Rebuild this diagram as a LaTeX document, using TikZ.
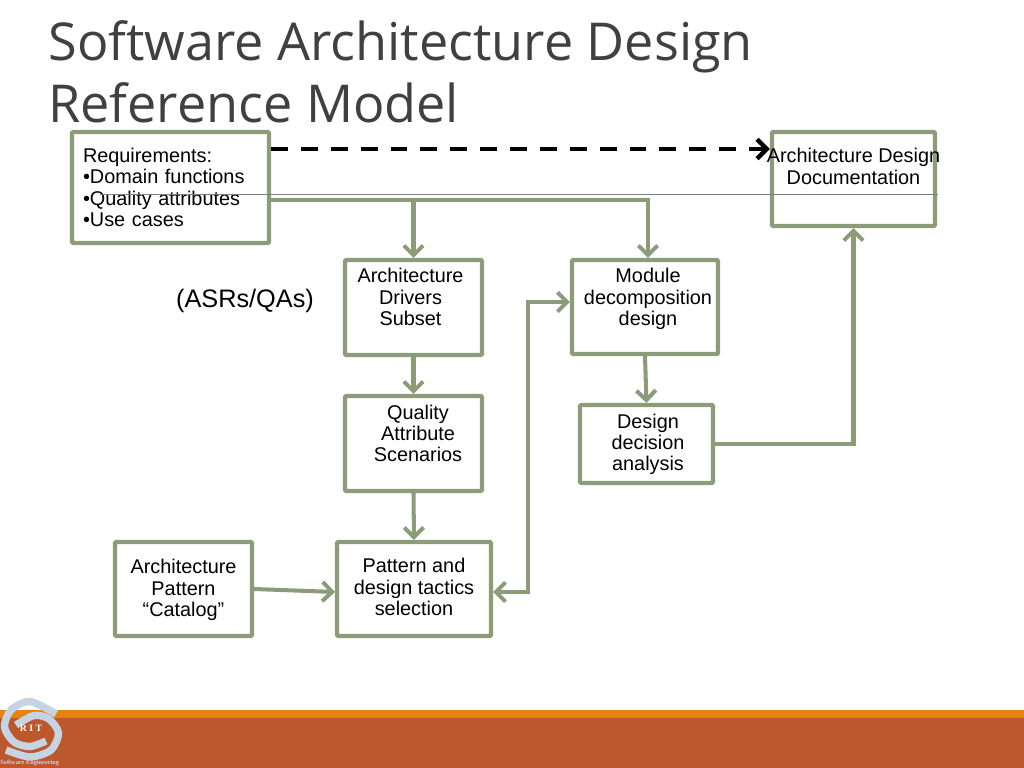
\documentclass[tikz,border=0pt]{standalone}
\usepackage{fontspec}
\setmainfont{Liberation Sans}
\newfontfamily\titlefont{Open Sans}
\newfontfamily\logofont{Liberation Serif}
\usetikzlibrary{arrows.meta}
\definecolor{boxgreen}{HTML}{8C9C78}
\definecolor{titlegray}{HTML}{404040}
\definecolor{bandorange}{HTML}{E48312}
\definecolor{bandrust}{HTML}{BD582C}
\definecolor{logoblue}{HTML}{C5D3E3}
\newcommand{\offtext}[2]{\hspace*{#1}\begin{tabular}[b]{@{}c@{}}#2\end{tabular}}
\begin{document}
\begin{tikzpicture}[box node/.style={draw=boxgreen, line width=2.3pt, fill=white, rounded corners=0.5pt, font=\fontsize{11.3}{12.2}\selectfont, align=center, inner sep=0pt},flow/.style={draw=boxgreen, line width=2.3pt, -{Straight Barb[length=5.5pt,width=11pt]}},trace/.style={draw=black, line width=2.6pt, dash pattern=on 9.6pt off 7.4pt, -{Straight Barb[length=5.5pt,width=11pt]}},logo stroke/.style={draw=logoblue, line width=4.2pt}]%
\path[use as bounding box] (0,0) rectangle (20.48,-15.36);%
  % Title%
\node[anchor=north west, inner sep=0pt, align=left, font=\titlefont\fontsize{29.7}{35.2}\selectfont, text=titlegray] (title) at (0.96,-0.4) {Software Architecture Design\\Reference Model};%
  % Footer%
\fill[bandorange] (0,-14.2) rectangle (20.48,-14.36);%
\fill[bandrust] (0,-14.36) rectangle (20.48,-15.36);%
\draw[logo stroke] plot[smooth] coordinates {(1.12,-14.28) (0.60,-14.03) (0.22,-14.20) (0.09,-14.54) (0.28,-14.84) (0.60,-14.93) (0.92,-14.82)};%
\draw[logo stroke] plot[smooth] coordinates {(0.12,-15.00) (0.60,-15.14) (1.02,-15.00) (1.17,-14.66) (0.98,-14.38) (0.68,-14.31) (0.32,-14.50)};%
\node[text=white, font=\logofont\bfseries\fontsize{5.5}{6}\selectfont, inner sep=0pt] (rit) at (0.62,-14.56) {R I T};%
\node[text=logoblue, font=\logofont\bfseries\fontsize{3.6}{4}\selectfont, anchor=west, inner sep=0pt] (dept) at (0,-15.26) {Software Engineering};%
  % Boxes%
\node[box node, minimum width=3.94cm, minimum height=2.22cm, text width=3.5cm, align=left] (req) at (3.41,-3.75) {Requirements:\\\textbullet Domain functions\\\textbullet Quality attributes\\\textbullet Use cases};%
\node[box node, minimum width=3.26cm, minimum height=1.88cm, text depth=0.5cm] (doc) at (17.07,-3.58) {\makebox[0pt]{Architecture Design}\\Documentation};%
\node[box node, minimum width=2.74cm, minimum height=1.90cm, text depth=0.44cm] (drivers) at (8.27,-6.15) {\offtext{-0.12cm}{Architecture\\Drivers\\Subset}};%
\node[box node, minimum width=2.92cm, minimum height=1.88cm, text depth=0.42cm] (module) at (12.90,-6.14) {\offtext{0.12cm}{Module\\decomposition\\design}};%
\node[box node, minimum width=2.74cm, minimum height=1.90cm, text depth=0.42cm] (scenarios) at (8.27,-8.87) {\offtext{0.18cm}{Quality\\Attribute\\Scenarios}};%
\node[box node, minimum width=2.66cm, minimum height=1.56cm, text depth=0.08cm] (analysis) at (12.93,-8.88) {\offtext{0.06cm}{Design\\decision\\analysis}};%
\node[box node, minimum width=2.74cm, minimum height=1.88cm, text depth=0.04cm] (catalog) at (3.67,-11.78) {Architecture\\Pattern\\“Catalog”};%
\node[box node, minimum width=3.08cm, minimum height=1.88cm, text depth=0.08cm] (tactics) at (8.28,-11.78) {Pattern and\\design tactics\\selection};%
\node[font=\fontsize{14.4}{15}\selectfont, inner sep=0pt] (asrs) at (4.9,-6.02) {(ASRs/QAs)};%
  % Connectors%
\draw[trace] ([yshift=0.77cm]req.east) -- ([yshift=0.6cm]doc.west);%
\draw[flow] ([yshift=-0.25cm]req.east) -| (drivers.north);%
\draw[flow] ([yshift=-0.25cm]req.east) -| ([xshift=0.06cm]module.north);%
\draw[flow] (drivers.south) -- (scenarios.north);%
\draw[flow] (module.south) -- (analysis.north);%
\draw[flow] (scenarios.south) -- (tactics.north);%
\draw[flow] (catalog.east) -- ([yshift=-0.06cm]tactics.west);%
\draw[flow, {Straight Barb[length=5.5pt,width=11pt]}-{Straight Barb[length=5.5pt,width=11pt]}] ([yshift=-0.06cm]tactics.east) -- (10.56,-11.84) |- ([yshift=0.1cm]module.west);%
\draw[flow] (analysis.east) -| (doc.south);%
\draw[gray, line width=0.4pt] (2.0,-3.88) -- (18.76,-3.88);%
\end{tikzpicture}
\end{document}
